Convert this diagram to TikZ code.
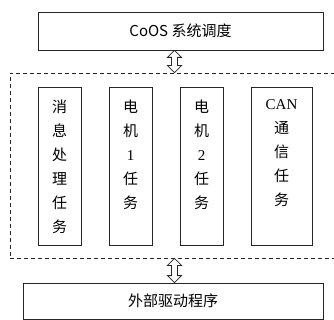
\documentclass[tikz,border=0pt]{standalone}
\usepackage{fontspec}
\setmainfont{Noto Sans CJK SC}
\newfontfamily\latserif{Liberation Serif}
\usetikzlibrary{calc}
\tikzset{
  box/.style={draw=black!85, line width=0.8pt, rectangle, inner sep=0pt},
  dashbox/.style={draw=black!85, line width=0.8pt, dash pattern=on 4pt off 3pt, rectangle, inner sep=0pt},
  tasktext/.style={anchor=north, inner sep=0pt, align=center, font=\fontsize{15}{24}\selectfont},
  hollowarrow/.style={draw=black!85, line width=0.8pt, fill=white, line join=miter}
}
\newcommand\hollowdarrow[2]{%
  \path[hollowarrow] let \p1=(#1), \p2=(#2) in
    (\x1,\y1) -- (\x1+7pt,\y1-7pt) -- (\x1+3pt,\y1-7pt) -- (\x1+3pt,\y2+7pt) --
    (\x1+7pt,\y2+7pt) -- (\x1,\y2) -- (\x1-7pt,\y2+7pt) -- (\x1-3pt,\y2+7pt) --
    (\x1-3pt,\y1-7pt) -- (\x1-7pt,\y1-7pt) -- cycle;}
\begin{document}
\begin{tikzpicture}[x=1pt,y=-1pt]
\useasboundingbox (0,0) rectangle (334,320);
\clip (0,0) rectangle (334,320);
\fill[white] (0,0) rectangle (334,320);
\node[box, minimum width=285pt, minimum height=38pt, font=\fontsize{15}{18}\selectfont] (top) at (180.5,31) {CoOS 系统调度};
\node[dashbox, minimum width=329pt, minimum height=185pt] (tasks) at (174.5,165.5) {};
\node[box, minimum width=300pt, minimum height=36pt, font=\fontsize{15}{18}\selectfont] (bot) at (173,301) {外部驱动程序};
\node[box, minimum width=43pt, minimum height=158pt] (t1) at (59.5,166) {};
\node[box, minimum width=43pt, minimum height=158pt] (t2) at (130.5,166) {};
\node[box, minimum width=43pt, minimum height=158pt] (t3) at (201.5,166) {};
\node[box, minimum width=61pt, minimum height=158pt] (t4) at (281.5,166) {};
\node[tasktext] (l1) at ($(t1.north)+(0,13)$) {消\\息\\处\\理\\任\\务};
\node[tasktext] (l2) at ($(t2.north)+(0,13)$) {电\\机\\{\latserif 1}\\任\\务};
\node[tasktext] (l3) at ($(t3.north)+(0,13)$) {电\\机\\{\latserif 2}\\任\\务};
\node[tasktext] (l4) at ($(t4.north)+(0,13)$) {{\latserif CAN}\\通\\信\\任\\务};
\hollowdarrow{top.south -| tasks.north}{tasks.north}
\hollowdarrow{tasks.south}{bot.north -| tasks.south}
\end{tikzpicture}
\end{document}
